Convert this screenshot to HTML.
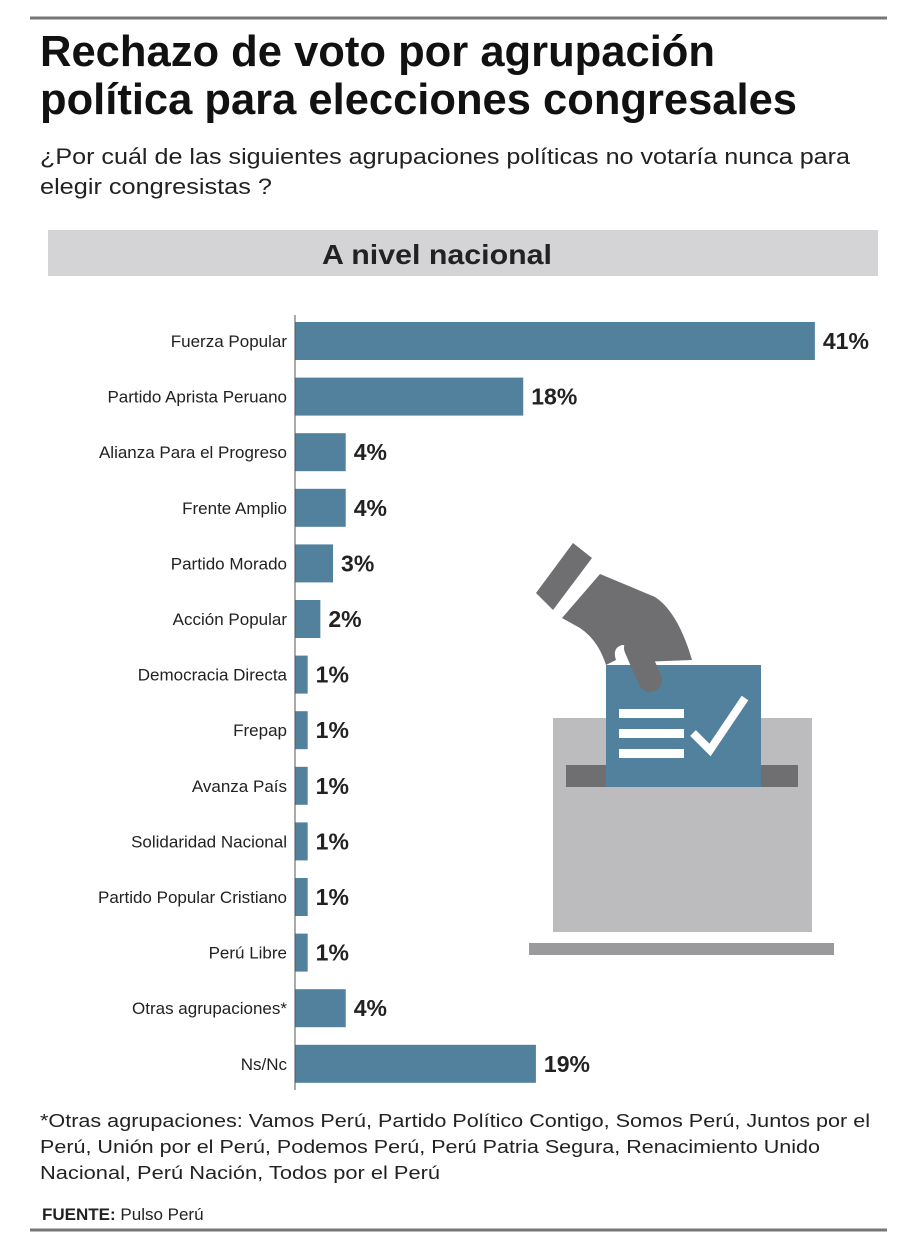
<!DOCTYPE html>
<html><head><meta charset="utf-8"><style>
html,body{margin:0;padding:0;background:#fff;}
svg{display:block;font-family:"Liberation Sans",sans-serif;}
</style></head><body>
<svg id="chart" width="920" height="1248" viewBox="0 0 920 1248">
<line x1="30" y1="18" x2="887" y2="18" stroke="#777" stroke-width="3"/>
<text x="40" y="66" font-size="44" font-weight="bold" fill="#111" textLength="675" lengthAdjust="spacingAndGlyphs">Rechazo de voto por agrupación</text>
<text x="40" y="114" font-size="44" font-weight="bold" fill="#111" textLength="757" lengthAdjust="spacingAndGlyphs">política para elecciones congresales</text>
<text x="40" y="164" font-size="22" fill="#222" textLength="810" lengthAdjust="spacingAndGlyphs">¿Por cuál de las siguientes agrupaciones políticas no votaría nunca para</text>
<text x="40" y="194" font-size="22" fill="#222" textLength="232" lengthAdjust="spacingAndGlyphs">elegir congresistas ?</text>
<rect x="48" y="230" width="830" height="46" fill="#d4d4d6"/>
<text x="437" y="264" font-size="28" font-weight="bold" fill="#222" text-anchor="middle" textLength="230" lengthAdjust="spacingAndGlyphs">A nivel nacional</text>

<g>
<rect x="553" y="718" width="259" height="214" fill="#bcbcbe"/>
<rect x="529" y="943" width="305" height="12" fill="#9a9a9c"/>
<rect x="566" y="765" width="232" height="22" fill="#6f6f72"/>
<path d="M536,593 L573,543 L592,558 L553,610 Z" fill="#6f6f72"/>
<path d="M562,618 L600,574 L655,597 Q678,612 692,660 L640,662 Q630,645 622,645 Q612,648 616,660 L606,665 Q598,640 580,628 Z" fill="#6f6f72"/>
<rect x="606" y="665" width="155" height="122" fill="#52819e"/>
<line x1="636" y1="648" x2="650" y2="680" stroke="#6f6f72" stroke-width="24" stroke-linecap="round"/>
<rect x="619" y="709" width="65" height="9" fill="#fff"/>
<rect x="619" y="729" width="65" height="9" fill="#fff"/>
<rect x="619" y="749" width="65" height="9" fill="#fff"/>
<path d="M693,733 L710,750 L745,698" stroke="#fff" stroke-width="8" fill="none"/>
</g>

<g id="bars"></g>
<line x1="295" y1="315" x2="295" y2="1090" stroke="#555" stroke-width="1"/>

<text font-size="18" fill="#222">
<tspan x="40" y="1127" textLength="830" lengthAdjust="spacingAndGlyphs">*Otras agrupaciones: Vamos Perú, Partido Político Contigo, Somos Perú, Juntos por el</tspan>
<tspan x="40" y="1153" textLength="780" lengthAdjust="spacingAndGlyphs">Perú, Unión por el Perú, Podemos Perú, Perú Patria Segura, Renacimiento Unido</tspan>
<tspan x="40" y="1179" textLength="400" lengthAdjust="spacingAndGlyphs">Nacional, Perú Nación, Todos por el Perú</tspan>
</text>
<text x="42" y="1220" font-size="17" fill="#222"><tspan font-weight="bold">FUENTE:</tspan> Pulso Perú</text>
<line x1="30" y1="1230" x2="887" y2="1230" stroke="#777" stroke-width="3"/>
</svg>
<script>
const categories = ["Fuerza Popular","Partido Aprista Peruano","Alianza Para el Progreso","Frente Amplio","Partido Morado","Acción Popular","Democracia Directa","Frepap","Avanza País","Solidaridad Nacional","Partido Popular Cristiano","Perú Libre","Otras agrupaciones*","Ns/Nc"];
const values = [41,18,4,4,3,2,1,1,1,1,1,1,4,19];
const valueLabels = ["41%","18%","4%","4%","3%","2%","1%","1%","1%","1%","1%","1%","4%","19%"];

const NS = "http://www.w3.org/2000/svg";
const x0 = 295, pxPer = 12.68, y0 = 322, step = 55.6, barH = 38;
function xScale(v){ return x0 + v * pxPer; }
function yScale(i){ return y0 + i * step; }
const g = document.getElementById("bars");
categories.forEach((c, i) => {
  const y = yScale(i);
  const r = document.createElementNS(NS, "rect");
  r.setAttribute("x", x0); r.setAttribute("y", y);
  r.setAttribute("width", xScale(values[i]) - x0); r.setAttribute("height", barH);
  r.setAttribute("fill", "#52819e");
  
  
  g.appendChild(r);
  const t = document.createElementNS(NS, "text");
  t.setAttribute("x", 287); t.setAttribute("y", y + barH / 2 + 6);
  t.setAttribute("text-anchor", "end"); t.setAttribute("font-size", "17");
  t.setAttribute("fill", "#222");
  t.textContent = c;
  
  
  g.appendChild(t);
  const v = document.createElementNS(NS, "text");
  v.setAttribute("x", xScale(values[i]) + 8); v.setAttribute("y", y + barH / 2 + 8);
  v.setAttribute("font-size", "23"); v.setAttribute("font-weight", "bold");
  v.setAttribute("fill", "#222");
  v.textContent = valueLabels[i];
  
  
  g.appendChild(v);
});
</script>
</body></html>
